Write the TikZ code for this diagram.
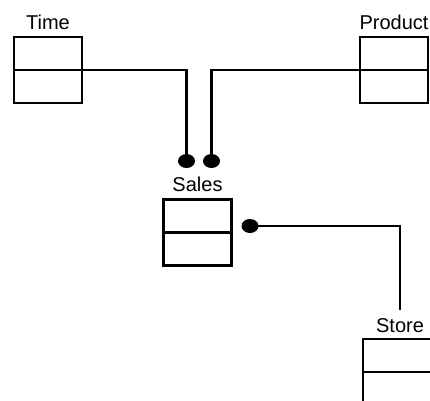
\documentclass[tikz,border=0pt]{standalone}
\usepackage{fontspec}
\setmainfont{Liberation Sans}
\usetikzlibrary{shapes.geometric}
\begin{document}
\begin{tikzpicture}[x=1pt,y=-1pt,
  tablebox/.style={draw, line width=2.2pt, minimum width=68pt, minimum height=66pt, inner sep=0pt},
  label/.style={font=\fontsize{20}{23}\selectfont, inner sep=0pt},
  dot/.style={ellipse, fill=black, minimum width=17pt, minimum height=14pt, inner sep=0pt},
  link/.style={line width=2.2pt}]
\useasboundingbox (0,0) rectangle (430,400);
\clip (0,0) rectangle (430,400);
% tables
\node[tablebox] (time) at (48,70) {};
\node[tablebox] (product) at (394,70) {};
\node[tablebox] (sales) at (197.5,232.5) {};
\node[tablebox] (store) at (397,372) {};
\foreach \t in {time,product,sales,store}
  \draw[line width=2.2pt] (\t.west) -- (\t.east);
% table names
\node[label, anchor=base] (timelbl) at (48,29) {Time};
\node[label, anchor=base] (productlbl) at (394,29) {Product};
\node[label, anchor=base] (saleslbl) at (197.5,191) {Sales};
\node[label, anchor=base] (storelbl) at (400,332) {Store};
% relationship ends
\node[dot] (dtime) at (186.5,161) {};
\node[dot] (dproduct) at (211.5,161) {};
\node[dot] (dstore) at (250,226) {};
% relationships
\draw[link] (time.east) -| (dtime.center);
\draw[link] (product.west) -| (dproduct.center);
\draw[link] (dstore.center) -| ([yshift=8pt]storelbl.north);
\end{tikzpicture}
\end{document}
